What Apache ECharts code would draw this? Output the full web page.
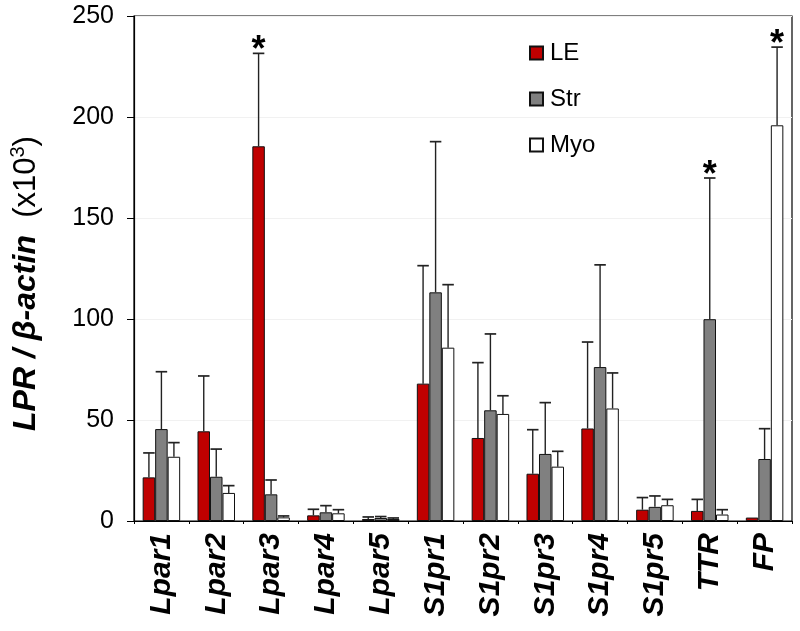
<!DOCTYPE html>
<html>
<head>
<meta charset="utf-8">
<script src="https://cdn.jsdelivr.net/npm/echarts@6/dist/echarts.min.js"></script>
<style>html,body{margin:0;padding:0;background:#fff}#c{width:800px;height:631px}</style>
</head>
<body>
<div id="c"></div>
<script>
const categories = ['Lpar1','Lpar2','Lpar3','Lpar4','Lpar5','S1pr1','S1pr2','S1pr3','S1pr4','S1pr5','TTR','FP'];
const seriesNames = ['LE','Str','Myo'];
const leMean  = [21.6, 44.4, 185.5, 2.8, 1.0, 68.0, 41.1, 23.4, 45.8, 5.6, 5.0, 1.7];
const leSD    = [12.1, 27.4, 46.0, 3.0, 1.0, 58.4, 37.3, 21.8, 42.8, 6.0, 5.7, 0.0];
const strMean = [45.5, 21.9, 13.2, 4.3, 1.5, 113.2, 54.8, 33.2, 76.2, 7.0, 99.9, 30.7];
const strSD   = [28.4, 13.7, 7.1, 3.3, 0.7, 74.6, 37.8, 25.4, 50.6, 5.4, 69.9, 15.0];
const myoMean = [31.8, 13.9, 1.8, 3.8, 1.0, 85.8, 53.0, 26.9, 55.7, 7.8, 3.2, 195.9];
const myoSD   = [7.0, 3.6, 0.7, 1.8, 0.5, 31.2, 9.0, 7.6, 17.6, 2.9, 2.4, 38.7];
// categories marked with an asterisk, per series
const leStars  = ['Lpar3'];
const strStars = ['TTR'];
const myoStars = ['FP'];
const yTicks = [0, 50, 100, 150, 200, 250];

const means = [leMean, strMean, myoMean];
const sds = [leSD, strSD, myoSD];
const stars = [leStars, strStars, myoStars];
const colors = ['#C00000', '#808080', '#FFFFFF'];
const BAR_FRAC = 0.228;
const FONT = 'Liberation Sans, Arial, Helvetica, sans-serif';

const chart = echarts.init(document.getElementById('c'));

const series = [];
seriesNames.forEach((name, i) => {
  series.push({
    name: name,
    type: 'bar',
    data: means[i],
    barWidth: (BAR_FRAC * 100) + '%',
    barGap: '0%',
    itemStyle: { color: colors[i], borderColor: '#111', borderWidth: 1 },
    emphasis: { disabled: true },
    z: 2
  });
});
seriesNames.forEach((name, i) => {
  series.push({
    type: 'custom',
    name: name + '_err',
    data: categories.map((c, k) => [k, means[i][k], sds[i][k], stars[i].indexOf(c) >= 0 ? 1 : 0]),
    encode: { x: 0, y: 1 },
    z: 3,
    silent: true,
    renderItem: function (params, api) {
      const k = api.value(0), m = api.value(1), sd = api.value(2), st = api.value(3);
      const band = api.size([1, 0])[0];
      const bw = band * BAR_FRAC;
      const base = api.coord([k, m]);
      const top = api.coord([k, m + sd]);
      const x = base[0] + (i - 1) * bw;
      const half = bw / 2 - 0.5;
      const children = [];
      if (sd > 0) {
        children.push({ type: 'line', shape: { x1: x, y1: base[1], x2: x, y2: top[1] }, style: { stroke: '#222', lineWidth: 1.4 } });
        children.push({ type: 'line', shape: { x1: x - half, y1: top[1], x2: x + half, y2: top[1] }, style: { stroke: '#222', lineWidth: 1.7 } });
      }
      if (st) {
        children.push({ type: 'text', style: { text: '*', x: x, y: top[1] - 2, align: 'center', verticalAlign: 'middle', fontSize: 36, fontWeight: 'bold', fontFamily: FONT, fill: '#000' } });
      }
      return { type: 'group', children: children };
    }
  });
});

chart.setOption({
  animation: false,
  backgroundColor: '#fff',
  grid: { left: 133, right: 8, top: 16, bottom: 110, show: true, borderColor: '#000', borderWidth: 1.2, backgroundColor: 'transparent' },
  legend: {
    data: seriesNames,
    orient: 'vertical',
    left: 524,
    top: 36,
    itemWidth: 13,
    itemHeight: 13,
    itemGap: 22,
    icon: 'rect',
    textStyle: { fontSize: 24, fontFamily: FONT, color: '#000', padding: [0, 0, 0, 2] },
    selectedMode: false
  },
  xAxis: {
    type: 'category',
    data: categories,
    axisLine: { lineStyle: { color: '#000', width: 1.2 } },
    axisTick: { show: true, length: 3, lineStyle: { color: '#000' } },
    axisLabel: { rotate: 90, margin: 12, fontSize: 30, fontWeight: 'bold', fontStyle: 'italic', fontFamily: FONT, color: '#000' }
  },
  yAxis: {
    type: 'value',
    min: yTicks[0],
    max: yTicks[yTicks.length - 1],
    interval: yTicks[1] - yTicks[0],
    axisLine: { show: true, lineStyle: { color: '#000', width: 1.2 } },
    axisTick: { show: true, length: 7, lineStyle: { color: '#000' } },
    splitLine: { show: true, lineStyle: { color: '#f1f1f1', width: 1 } },
    axisLabel: { fontSize: 25, fontFamily: FONT, color: '#000', margin: 20 },
    name: '{b|LPR / \u03b2-actin}{n|  (x10}{s|3}{n|)}',
    nameLocation: 'middle',
    nameRotate: 90,
    nameGap: 90,
    nameTextStyle: {
      padding: [0, 30, 0, 0],
      rich: {
        b: { fontSize: 32, fontWeight: 'bold', fontStyle: 'italic', fontFamily: FONT, color: '#000', lineHeight: 36 },
        n: { fontSize: 31, fontFamily: FONT, color: '#000', lineHeight: 36 },
        s: { fontSize: 20, fontFamily: FONT, color: '#000', verticalAlign: 'top', lineHeight: 36 }
      }
    }
  },
  series: series
});
</script>
</body>
</html>
